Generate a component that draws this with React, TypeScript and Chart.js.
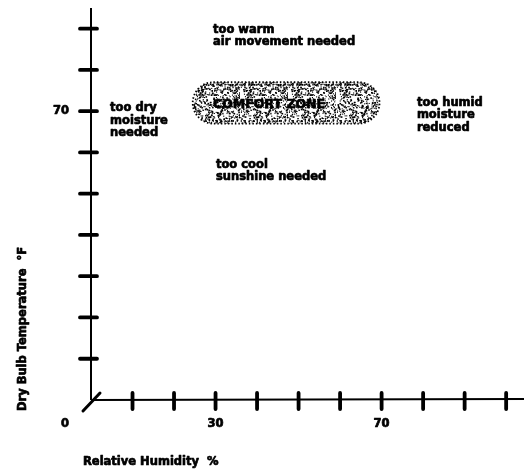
import React, { useEffect, useRef } from "react";
import { Chart, registerables } from "chart.js";

Chart.register(...registerables);

// ---- data (axis values in % RH and °F) ----
const rhRange = [0, 104.3];
const tempRange = [56, 75];
const rhTicks = [10, 20, 30, 40, 50, 60, 70, 80, 90, 100];
const tempTicks = [58, 60, 62, 64, 66, 68, 70, 72, 74];
const rhLabelValues = [0, 30, 70];
const rhLabelTexts = ["0", "30", "70"];
const tempLabelValues = [70];
const tempLabelTexts = ["70"];

const comfortRH = [24.5, 69.5];
const comfortTemp = [69.4, 71.4];
const comfortLabel = "COMFORT ZONE";
const comfortLabelRH = 29.4;
const comfortLabelTemp = 70.3;

const noteLines = [
  ["too warm", "air movement needed"],
  ["too dry", "moisture", "needed"],
  ["too cool", "sunshine needed"],
  ["too humid", "moisture", "reduced"],
];
const noteRH = [29.4, 4.6, 30.1, 78.5];
const noteTemp = [73.94, 70.15, 67.39, 70.4];

const xTitle = "Relative Humidity  %";
const yTitle = "Dry Bulb Temperature  °F";

// ---- styles ----
const FONT = "'DejaVu Sans', sans-serif";
const TEXT_FONT = `bold 11.5px ${FONT}`;
const ZONE_FONT = `bold 12.5px ${FONT}`;
const LINE_H = 12.5;

function hash(i: number) {
  const s = Math.sin(i * 12.9898 + 78.233) * 43758.5453;
  return s - Math.floor(s);
}

function makeStipple(ctx: CanvasRenderingContext2D) {
  const c = document.createElement("canvas");
  c.width = 48;
  c.height = 48;
  const g = c.getContext("2d")!;
  g.fillStyle = "#000";
  for (let i = 0; i < 600; i++) {
    const x = hash(i) * 48;
    const y = hash(i + 5000) * 48;
    const s = hash(i + 9000) > 0.7 ? 1.6 : 1.1;
    g.fillRect(x, y, s, s);
  }
  return ctx.createPattern(c, "repeat");
}

function heavyText(ctx: CanvasRenderingContext2D, t: string, x: number, y: number) {
  ctx.fillText(t, x, y);
  ctx.strokeText(t, x, y);
}

const drawPlugin = {
  id: "diagram",
  afterDraw(chart: any) {
    const ctx: CanvasRenderingContext2D = chart.ctx;
    const xs = chart.scales.x;
    const ys = chart.scales.y;
    const ca = chart.chartArea;
    ctx.save();

    // comfort zone
    const x0 = xs.getPixelForValue(comfortRH[0]);
    const x1 = xs.getPixelForValue(comfortRH[1]);
    const yT = ys.getPixelForValue(comfortTemp[1]);
    const yB = ys.getPixelForValue(comfortTemp[0]);
    const r = (yB - yT) / 2;
    const pat = makeStipple(ctx);
    ctx.beginPath();
    ctx.roundRect(x0, yT, x1 - x0, yB - yT, r);
    if (pat) ctx.fillStyle = pat;
    ctx.fill();
    ctx.strokeStyle = "#000";
    ctx.setLineDash([1.5, 2]);
    ctx.lineWidth = 1.8;
    ctx.stroke();
    ctx.beginPath();
    ctx.roundRect(x0 + 2.5, yT + 2.5, x1 - x0 - 5, yB - yT - 5, r - 2.5);
    ctx.setLineDash([1.4, 2.6]);
    ctx.lineDashOffset = 1;
    ctx.lineWidth = 1.4;
    ctx.stroke();
    ctx.setLineDash([]);

    // axes
    ctx.strokeStyle = "#000";
    ctx.lineWidth = 2;
    ctx.lineCap = "butt";
    ctx.beginPath();
    ctx.moveTo(ca.left, ca.top);
    ctx.lineTo(ca.left, ca.bottom);
    ctx.moveTo(ca.left, ca.bottom);
    ctx.lineTo(ca.right, ca.bottom - 1);
    ctx.stroke();

    // ticks
    ctx.lineWidth = 3.8;
    ctx.lineCap = "round";
    ctx.beginPath();
    for (const v of tempTicks) {
      const y = ys.getPixelForValue(v);
      ctx.moveTo(ca.left - 11, y);
      ctx.lineTo(ca.left + 6, y);
    }
    for (const v of rhTicks) {
      const x = xs.getPixelForValue(v);
      ctx.moveTo(x, ca.bottom - 7);
      ctx.lineTo(x, ca.bottom + 9);
    }
    ctx.stroke();

    // axis break slash
    ctx.lineWidth = 3;
    ctx.beginPath();
    ctx.moveTo(ca.left - 8, ca.bottom + 11);
    ctx.lineTo(ca.left + 9, ca.bottom - 7);
    ctx.stroke();

    // tick labels
    ctx.fillStyle = "#000";
    ctx.strokeStyle = "#000";
    ctx.lineWidth = 0.7;
    ctx.lineJoin = "round";
    ctx.font = TEXT_FONT;
    ctx.textBaseline = "middle";
    ctx.textAlign = "center";
    rhLabelValues.forEach((v, i) => {
      let x = xs.getPixelForValue(v);
      if (v === rhRange[0]) x -= 26;
      heavyText(ctx, rhLabelTexts[i], x, ca.bottom + 24);
    });
    ctx.textAlign = "right";
    tempLabelValues.forEach((v, i) => {
      heavyText(ctx, tempLabelTexts[i], ca.left - 22, ys.getPixelForValue(v));
    });

    // notes
    ctx.textAlign = "left";
    noteLines.forEach((lines, i) => {
      const x = xs.getPixelForValue(noteRH[i]);
      const y = ys.getPixelForValue(noteTemp[i]);
      lines.forEach((t, j) => heavyText(ctx, t, x, y + j * LINE_H));
    });

    ctx.font = ZONE_FONT;
    heavyText(
      ctx,
      comfortLabel,
      xs.getPixelForValue(comfortLabelRH),
      ys.getPixelForValue(comfortLabelTemp)
    );

    // axis titles
    ctx.font = TEXT_FONT;
    ctx.textAlign = "left";
    heavyText(ctx, xTitle, ca.left - 8, ca.bottom + 62);
    ctx.save();
    ctx.translate(ca.left - 68, 329);
    ctx.rotate(-Math.PI / 2);
    ctx.textAlign = "center";
    heavyText(ctx, yTitle, 0, 0);
    ctx.restore();

    ctx.restore();
  },
};

export default function App() {
  const ref = useRef<HTMLCanvasElement | null>(null);
  useEffect(() => {
    if (!ref.current) return;
    const chart = new Chart(ref.current, {
      type: "scatter",
      data: { datasets: [{ data: [], pointRadius: 0 }] },
      options: {
        responsive: false,
        animation: false,
        devicePixelRatio: 1,
        layout: { padding: { left: 91, top: 8, right: 0, bottom: 70 } },
        plugins: { legend: { display: false }, tooltip: { enabled: false } },
        scales: {
          x: { type: "linear", min: rhRange[0], max: rhRange[1], display: false },
          y: { type: "linear", min: tempRange[0], max: tempRange[1], display: false },
        },
      },
      plugins: [drawPlugin],
    } as any);
    return () => chart.destroy();
  }, []);
  return (
    <div style={{ position: "absolute", left: 0, top: 0, width: 524, height: 470, background: "#fff" }}>
      <canvas ref={ref} width={524} height={470} />
    </div>
  );
}
